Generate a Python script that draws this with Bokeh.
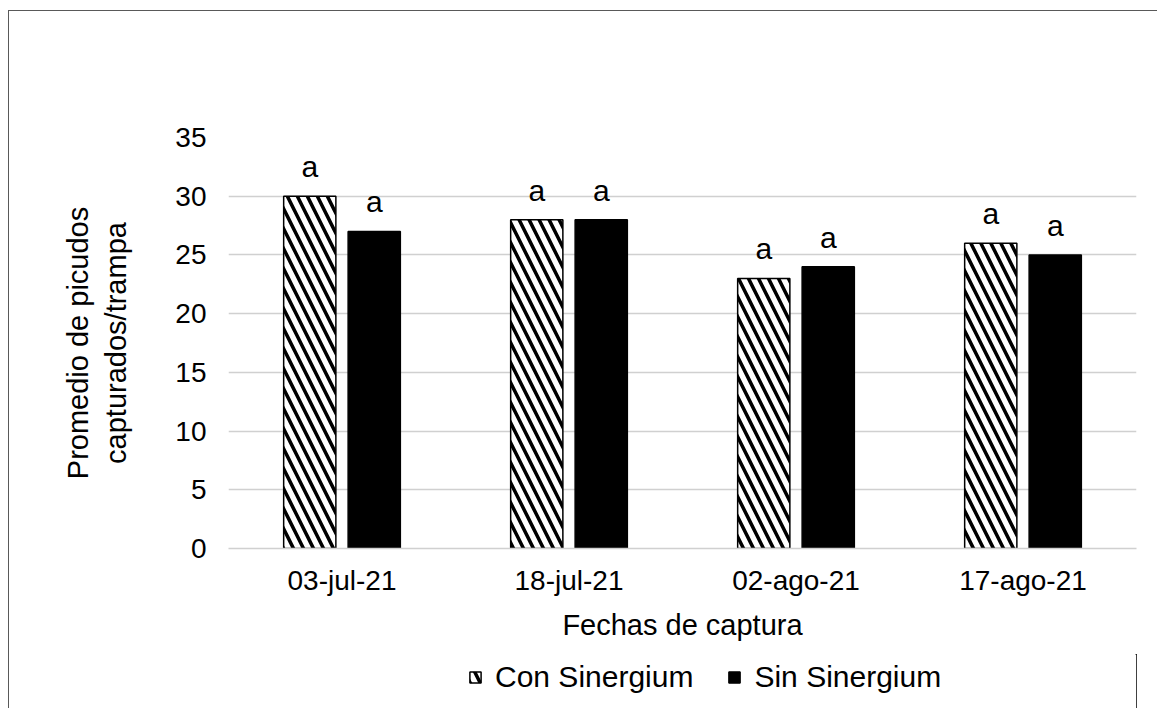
from bokeh.plotting import figure
from bokeh.layouts import column
from bokeh.models import (ColumnDataSource, FactorRange, Range1d, FixedTicker,
                          LabelSet, Legend, LegendItem, BoxAnnotation)
from bokeh.core.properties import value
from bokeh.transform import dodge
from bokeh.embed import file_html
from bokeh.resources import INLINE

fechas = ["03-jul-21", "18-jul-21", "02-ago-21", "17-ago-21"]
con_sinergium = [30, 28, 23, 26]
sin_sinergium = [27, 28, 24, 25]
letras_con = ["a", "a", "a", "a"]
letras_sin = ["a", "a", "a", "a"]
y_ticks = [0, 5, 10, 15, 20, 25, 30, 35]
series = ["Con Sinergium", "Sin Sinergium"]

FONT = "Liberation Sans"
BORDER = "1px solid #595959"

src = ColumnDataSource(dict(fecha=fechas, con=con_sinergium, sin=sin_sinergium,
                            lcon=letras_con, lsin=letras_sin))

con_style = dict(fill_color="white", line_color="black", line_width=1.5,
                 hatch_pattern="\\", hatch_color="black", hatch_scale=20, hatch_weight=3.5)
sin_style = dict(fill_color="black", line_color="black", line_width=1.5)

p = figure(x_range=FactorRange(*fechas), y_range=Range1d(0, 35),
           width=1149, height=644, output_backend="svg", toolbar_location=None,
           min_border_left=219, min_border_right=22, min_border_top=126,
           min_border_bottom=107)
p.styles = {"border-left": BORDER, "border-top": BORDER}
p.outline_line_color = None

p.vbar(x=dodge("fecha", -0.142, range=p.x_range), top="con", width=0.23,
       source=src, **con_style)
p.vbar(x=dodge("fecha", 0.142, range=p.x_range), top="sin", width=0.23,
       source=src, **sin_style)

for col, lab, off in (("con", "lcon", -0.142), ("sin", "lsin", 0.142)):
    ls = LabelSet(x=dodge("fecha", off, range=p.x_range), y=col, text=lab, source=src,
                  text_align="center", text_baseline="alphabetic", y_offset=19,
                  text_font=value(FONT), text_font_size="30px", text_color="black")
    p.add_layout(ls)

# grid
p.xgrid.grid_line_color = None
p.ygrid.grid_line_color = "#d0d0d0"
p.ygrid.grid_line_width = 1.5
p.yaxis.ticker = FixedTicker(ticks=y_ticks)

# axes
for ax in (p.xaxis[0], p.yaxis[0]):
    ax.major_tick_line_color = None
    ax.minor_tick_line_color = None
    ax.major_tick_out = 0
    ax.major_tick_in = 0
    ax.major_label_text_font = FONT
    ax.major_label_text_font_size = "28px"
    ax.major_label_text_color = "black"
    ax.axis_label_text_font = FONT
    ax.axis_label_text_font_size = "29px"
    ax.axis_label_text_font_style = "normal"
    ax.axis_label_text_color = "black"

p.yaxis.axis_line_color = None
p.xaxis.axis_line_color = "#d0d0d0"
p.xaxis.axis_line_width = 1.5
p.xaxis.major_label_standoff = 16
p.yaxis.major_label_standoff = 22
p.xaxis.axis_label = "Fechas de captura"
p.xaxis.axis_label_standoff = 10
p.yaxis.axis_label = "Promedio de picudos\ncapturados/trampa"
p.yaxis.axis_label_standoff = 40

# legend strip below the chart (its bars are hidden; only the key shows)
pl = figure(width=1149, height=54, x_range=Range1d(0, 1), y_range=Range1d(0, 1),
            output_backend="svg", toolbar_location=None,
            x_axis_location=None, y_axis_location=None,
            min_border_left=0, min_border_right=0, min_border_top=0, min_border_bottom=0)
pl.styles = {"border-left": BORDER}
pl.outline_line_color = None
pl.xgrid.visible = False
pl.ygrid.visible = False
lr_con = pl.vbar(x="con", top="con", width=0.1, source=src, **con_style)
lr_sin = pl.vbar(x="sin", top="sin", width=0.1, source=src, **sin_style)
pl.add_layout(BoxAnnotation(fill_color="white", fill_alpha=1, line_color=None,
                            line_alpha=0))

legend = Legend(items=[LegendItem(label=series[0], renderers=[lr_con]),
                       LegendItem(label=series[1], renderers=[lr_sin])],
                orientation="horizontal", location=(240, 14))
legend.label_text_font = FONT
legend.label_text_font_size = "30px"
legend.label_text_color = "black"
legend.glyph_width = 14
legend.glyph_height = 14
legend.label_standoff = 13
legend.spacing = 34
legend.padding = 0
legend.margin = 0
legend.border_line_color = None
legend.background_fill_color = None
legend.background_fill_alpha = 0
pl.add_layout(legend, "center")

layout = column(p, pl, spacing=0, styles={"margin-top": "10px", "margin-left": "8px"})

open("out.html", "w").write(file_html(layout, INLINE))
